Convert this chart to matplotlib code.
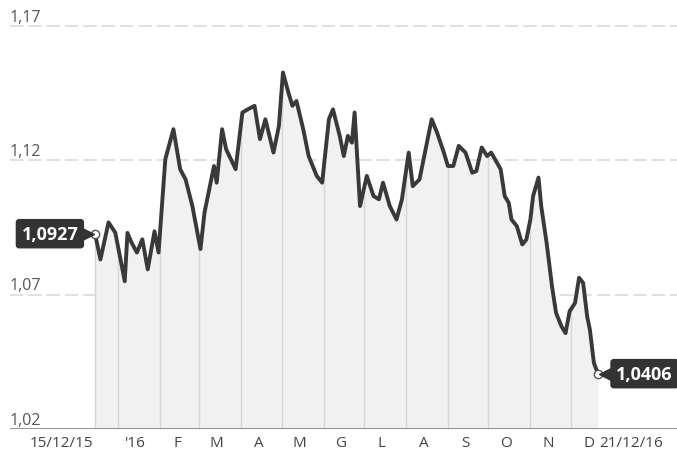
import numpy as np
import pandas as pd
import matplotlib
matplotlib.use("Agg")
import matplotlib.pyplot as plt

plt.rcParams["font.family"] = ["Open Sans", "DejaVu Sans"]

# ---------- DATA (EUR/USD, 15/12/15 - 21/12/16) ----------
start = pd.Timestamp("2015-12-15")
days = [0, 4, 10, 15, 22, 24, 27, 31, 35, 39, 44, 47, 52, 58, 63, 67, 72, 78,
        81, 88, 90, 94, 97, 104, 109, 113, 118, 122, 126, 132, 136, 139, 143,
        146, 149, 154, 158, 164, 168, 173, 176, 181, 184, 187, 190, 192, 196,
        201, 206, 210, 213, 218, 223, 227, 232, 235, 240, 244, 249, 253, 258,
        261, 265, 269, 274, 279, 282, 286, 290, 293, 300, 303, 306, 308, 312,
        316, 319, 322, 324, 328, 330, 334, 338, 341, 345, 348, 351, 355, 358,
        361, 364, 366, 369, 372]
values = [1.0927, 1.0831, 1.0969, 1.0931, 1.0750, 1.0930, 1.0894, 1.0857,
          1.0906, 1.0794, 1.0936, 1.0857, 1.1204, 1.1316, 1.1167, 1.1129,
          1.1030, 1.0870, 1.1006, 1.1179, 1.1117, 1.1316, 1.1241, 1.1167,
          1.1378, 1.1390, 1.1403, 1.1279, 1.1353, 1.1229, 1.1328, 1.1527,
          1.1453, 1.1403, 1.1421, 1.1316, 1.1216, 1.1142, 1.1117, 1.1353,
          1.1390, 1.1291, 1.1216, 1.1291, 1.1266, 1.1378, 1.1030, 1.1142,
          1.1067, 1.1055, 1.1117, 1.1030, 1.0980, 1.1055, 1.1229, 1.1104,
          1.1129, 1.1229, 1.1353, 1.1303, 1.1229, 1.1179, 1.1179, 1.1254,
          1.1229, 1.1154, 1.1160, 1.1248, 1.1216, 1.1229, 1.1167, 1.1067,
          1.1042, 1.0980, 1.0955, 1.0887, 1.0905, 1.0980, 1.1067, 1.1136,
          1.1030, 1.0893, 1.0731, 1.0632, 1.0582, 1.0557, 1.0638, 1.0669,
          1.0763, 1.0744, 1.0619, 1.0570, 1.0445, 1.0406]
month_labels = ["'16", "F", "M", "A", "M", "G", "L", "A", "S", "O", "N", "D"]
first_label = "15/12/15"
last_label = "21/12/16"
first_value_text = "1,0927"
last_value_text = "1,0406"
yticks = [1.02, 1.07, 1.12, 1.17]
ytick_labels = ["1,02", "1,07", "1,12", "1,17"]

dates = start + pd.to_timedelta(days, unit="D")

# ---------- PLOT ----------
fig = plt.figure(figsize=(6.77, 4.52), dpi=100)
ax = fig.add_axes([10 / 677, 22 / 452, 667 / 677, 420 / 452])

px_per_day = 1.352
ax.set_xlim(start - pd.Timedelta(days=85 / px_per_day),
            start + pd.Timedelta(days=372 + 79 / px_per_day))
ax.set_ylim(1.02, 1.17 + 17 * 0.05 / 134)

# fill + month separators
ax.fill_between(dates, values, 1.02, color="#f1f1f1", lw=0, zorder=1)
month_starts = [start] + list(pd.date_range("2016-01-01", "2016-12-01", freq="MS"))
for m in month_starts:
    d = (m - start).days
    top = np.interp(d, days, values)
    ax.plot([m, m], [1.02, top], color="#d6d6d6", lw=1, zorder=2)

# grid lines
for y in yticks[1:]:
    ax.axhline(y, color="#dadada", lw=1.2, ls=(0, (8, 3)), zorder=0.5)
ax.axhline(1.02, color="#8a8a8a", lw=1.3, zorder=3)

ax.plot(dates, values, color="#393939", lw=2.8, solid_joinstyle="round", zorder=4)

# end markers
ax.plot([dates[0], dates[-1]], [values[0], values[-1]], "o", ms=6,
        mfc="white", mec="#555555", mew=1, zorder=5)

# value tags
tag_box = dict(boxstyle="round,pad=0.28,rounding_size=0.15",
               fc="#333333", ec="#333333")
ax.annotate(first_value_text, xy=(dates[0], values[0]), xytext=(-12, 0),
            textcoords="offset points", ha="right", va="center",
            color="white", fontsize=13, fontweight="bold",
            bbox=tag_box, zorder=6)
ax.plot([dates[0] - pd.Timedelta(days=5.5)], [values[0]], marker=">", ms=8,
        color="#333333", zorder=6)
ax.annotate(last_value_text, xy=(dates[-1], values[-1]), xytext=(13, 0),
            textcoords="offset points", ha="left", va="center",
            color="white", fontsize=13, fontweight="bold",
            bbox=tag_box, zorder=6)
ax.plot([dates[-1] + pd.Timedelta(days=5.5)], [values[-1]], marker="<", ms=8,
        color="#333333", zorder=6)

# y labels
for y, lab in zip(yticks, ytick_labels):
    ax.text(0, y + 0.0005, lab, transform=ax.get_yaxis_transform(), ha="left",
            va="bottom", fontsize=11.5, color="#555555")

# x labels
ylab = 1.02 - 0.0022
ax.text(dates[0] - pd.Timedelta(days=1), ylab, first_label, ha="right",
        va="top", fontsize=11, color="#444444")
ax.text(dates[-1] + pd.Timedelta(days=1), ylab, last_label,
        ha="left", va="top", fontsize=11, color="#444444")
for i, lab in enumerate(month_labels):
    d = pd.Timestamp(2016, i + 1, 14)
    ax.text(d, ylab, lab, ha="center", va="top", fontsize=11,
            color="#444444")

ax.axis("off")
fig.savefig("out.png", dpi=100)
